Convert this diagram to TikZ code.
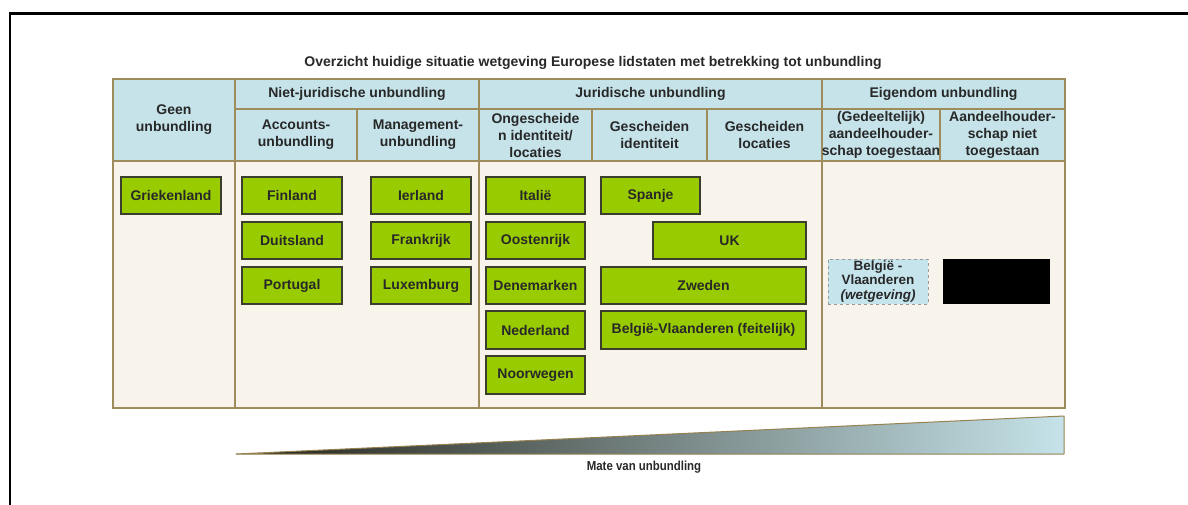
\documentclass[tikz,border=0pt]{standalone}
\usepackage{fontspec}
\setmainfont{Liberation Sans}
\usepackage{graphicx}
\definecolor{hdrblue}{RGB}{197,227,233}
\definecolor{bodycream}{RGB}{248,244,235}
\definecolor{gridc}{RGB}{158,140,92}
\definecolor{boxgreen}{RGB}{153,204,0}
\definecolor{boxline}{RGB}{60,62,45}
\definecolor{txt}{RGB}{40,40,40}
\definecolor{dashblue}{RGB}{198,228,236}
\tikzset{
  cell/.style={draw=gridc, line width=1.3pt, inner sep=0pt, align=center, text=txt,
    font=\bfseries\fontsize{14}{17}\selectfont},
  hdr/.style={cell, fill=hdrblue},
  bodycell/.style={cell, fill=bodycream},
  country/.style={draw=boxline, fill=boxgreen, line width=1.4pt, inner sep=0pt,
    minimum height=37pt, text=txt, font=\bfseries\fontsize{14}{17}\selectfont},
}
\begin{document}
\begin{tikzpicture}[x=1pt,y=-1pt]
\useasboundingbox (0,0) rectangle (1188,505);
\fill[white] (0,0) rectangle (1188,505);
% frame
\draw[line width=2.6pt] (10,505) -- (10,13.5) -- (1188,13.5);
% title
\node[font=\bfseries\fontsize{14}{17}\selectfont, text=txt] (title) at (593,63)
  {Overzicht huidige situatie wetgeving Europese lidstaten met betrekking tot unbundling};
% body cells
\node[bodycell, minimum width=122pt, minimum height=247pt] (b1) at (174,284.5) {};
\node[bodycell, minimum width=244pt, minimum height=247pt] (b2) at (357,284.5) {};
\node[bodycell, minimum width=343pt, minimum height=247pt] (b3) at (650.5,284.5) {};
\node[bodycell, minimum width=243pt, minimum height=247pt] (b4) at (943.5,284.5) {};
% header cells
\node[hdr, minimum width=122pt, minimum height=82pt] (geen) at (174,120) {Geen\\unbundling};
\node[hdr, minimum width=244pt, minimum height=30pt] (nj) at (357,94) {Niet-juridische unbundling};
\node[hdr, minimum width=122pt, minimum height=52pt] (acc) at (296,135) {Accounts-\\unbundling};
\node[hdr, minimum width=122pt, minimum height=52pt] (man) at (418,135) {Management-\\unbundling};
\node[hdr, minimum width=343pt, minimum height=30pt] (jur) at (650.5,94) {Juridische unbundling};
\node[hdr, minimum width=113pt, minimum height=52pt] (ong) at (535.5,135) {Ongescheide\\n identiteit/\\locaties};
\node[hdr, minimum width=115pt, minimum height=52pt] (gid) at (649.5,135) {Gescheiden\\identiteit};
\node[hdr, minimum width=115pt, minimum height=52pt] (glo) at (764.5,135) {Gescheiden\\locaties};
\node[hdr, minimum width=243pt, minimum height=30pt] (eig) at (943.5,94) {Eigendom unbundling};
\node[hdr, minimum width=118pt, minimum height=52pt] (ged) at (881,135) {(Gedeeltelijk)\\aandeelhouder-\\schap toegestaan};
\node[hdr, minimum width=125pt, minimum height=52pt] (aan) at (1002.5,135) {Aandeelhouder-\\schap niet\\toegestaan};
% countries
\node[country, minimum width=100pt] (gr) at (171,195.5) {Griekenland};
\node[country, minimum width=100pt] (fi) at (292,195.5) {Finland};
\node[country, minimum width=100pt] (de) at (292,240.5) {Duitsland};
\node[country, minimum width=100pt] (pt) at (292,285.5) {Portugal};
\node[country, minimum width=100pt] (ie) at (421,195.5) {Ierland};
\node[country, minimum width=100pt] (fr) at (421,240.5) {Frankrijk};
\node[country, minimum width=100pt] (lu) at (421,285.5) {Luxemburg};
\node[country, minimum width=99pt] (it) at (535.5,195.5) {Italië};
\node[country, minimum width=99pt] (at) at (535.5,240.5) {Oostenrijk};
\node[country, minimum width=99pt] (dk) at (535.5,285.5) {Denemarken};
\node[country, minimum width=99pt, minimum height=38pt] (nl) at (535.5,330) {Nederland};
\node[country, minimum width=99pt, minimum height=38pt] (no) at (535.5,375) {Noorwegen};
\node[country, minimum width=99pt] (es) at (650.5,195.5) {Spanje};
\node[country, minimum width=153pt] (uk) at (729.5,240.5) {UK};
\node[country, minimum width=205pt] (se) at (703.5,285.5) {Zweden};
\node[country, minimum width=205pt, minimum height=38pt] (bvf) at (703.5,330) {België-Vlaanderen (feitelijk)};
\node[draw=gray!80, dashed, line width=1pt, fill=dashblue, minimum width=100pt, minimum height=45pt,
  inner sep=0pt, align=center, text=txt, font=\bfseries\fontsize{13.5}{14.5}\selectfont]
  (bvw) at (878,281.5) {België -\\Vlaanderen\\\itshape(wetgeving)};
\node[fill=black, minimum width=107pt, minimum height=45pt, inner sep=0pt] (blk) at (996.5,281.5) {};
% gradient wedge
\coordinate (w1) at (236,454);
\coordinate (w2) at (1064,416);
\coordinate (w3) at (1064,454);
\shade[left color={rgb,255:red,35;green,34;blue,24}, middle color={rgb,255:red,128;green,152;blue,156},
  right color=hdrblue] (w1) -- (w2) -- (w3) -- cycle;
\draw[draw={rgb,255:red,150;green,130;blue,80}, line width=1pt, line join=round] (w1) -- (w2) -- (w3) -- cycle;
\node[text=txt, font=\bfseries\fontsize{13}{15}\selectfont] (mate) at (644,467)
  {\scalebox{0.88}[1]{Mate van unbundling}};
\end{tikzpicture}
\end{document}
